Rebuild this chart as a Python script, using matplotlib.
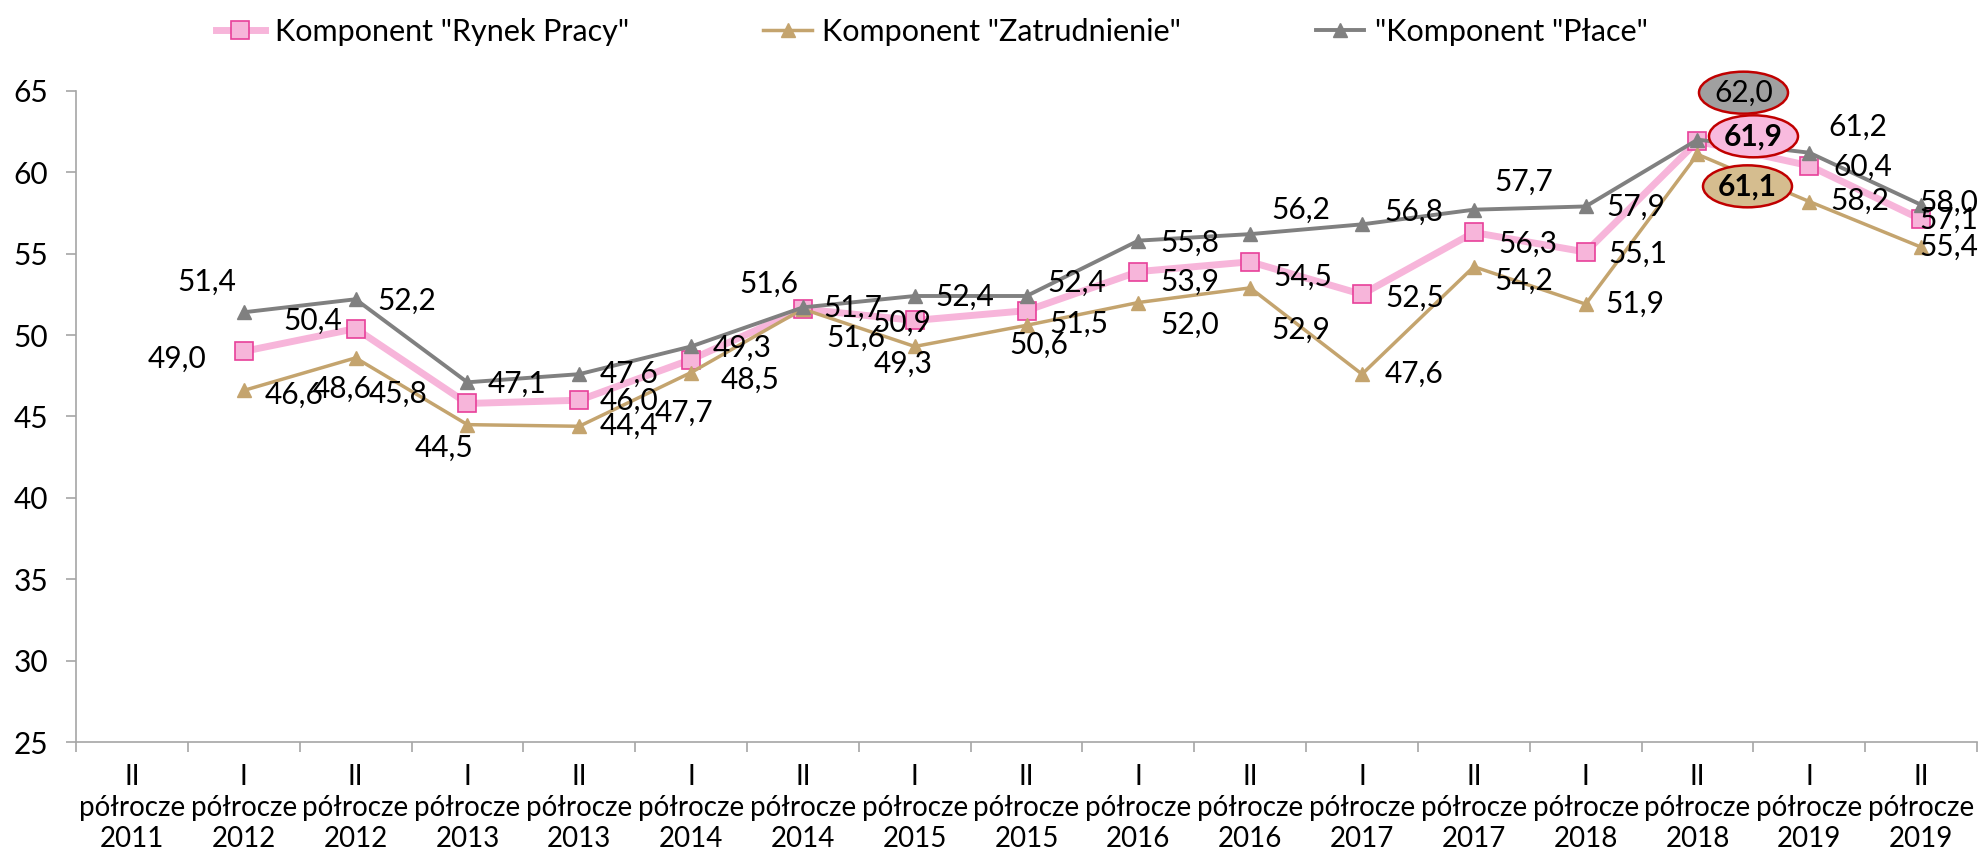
import matplotlib
matplotlib.use("Agg")
import matplotlib.pyplot as plt
from matplotlib.patches import Ellipse
from matplotlib.transforms import IdentityTransform

plt.rcParams['font.family'] = ['Lato', 'DejaVu Sans']

# categories (half-years)
halves = ["II", "I", "II", "I", "II", "I", "II", "I", "II", "I", "II", "I", "II", "I", "II", "I", "II"]
years = [2011, 2012, 2012, 2013, 2013, 2014, 2014, 2015, 2015, 2016, 2016, 2017, 2017, 2018, 2018, 2019, 2019]

# series values (first category has no data)
rynek = [None, 49.0, 50.4, 45.8, 46.0, 48.5, 51.6, 50.9, 51.5, 53.9, 54.5, 52.5, 56.3, 55.1, 61.9, 60.4, 57.1]
zatrud = [None, 46.6, 48.6, 44.5, 44.4, 47.7, 51.6, 49.3, 50.6, 52.0, 52.9, 47.6, 54.2, 51.9, 61.1, 58.2, 55.4]
place = [None, 51.4, 52.2, 47.1, 47.6, 49.3, 51.7, 52.4, 52.4, 55.8, 56.2, 56.8, 57.7, 57.9, 62.0, 61.2, 58.0]

# label offsets in pixels from the point (dx right, dy down)
off_rynek = [None, (-67, 7), (-43, -8), (-69, -10), (50, 1), (59, 20), (-34, -25), (-13, 2), (52, 13),
             (51, 10), (53, 15), (53, 3), (54, 11), (52, 2), (56, -5), (53, 1), (28, 0)]
off_zatrud = [None, (50, 4), (-13, 31), (-23, 23), (50, 0), (-7, 40), (53, 29), (-12, 17), (12, 19),
              (51, 22), (51, 42), (52, 0), (50, 14), (49, 0), (50, 32), (50, -1), (28, 0)]
off_place = [None, (-37, -31), (51, 2), (50, 1), (50, 0), (51, 1), (50, 0), (50, 1), (50, -13),
             (51, 2), (51, -24), (52, -13), (50, -28), (50, 0), (46, -47), (48, -26), (28, -2)]

pink = '#F7B5DA'
pink_edge = '#E8409A'
tan = '#C4A46E'
grey = '#808080'

fig = plt.figure(figsize=(19.85, 8.65), dpi=100)
ax = fig.add_axes([0.0383, 0.142, 0.9577, 0.753])

x = list(range(len(halves)))
xs = [i for i in x if rynek[i] is not None]

ax.plot(xs, [rynek[i] for i in xs], color=pink, lw=5, marker='s', ms=13.5,
        mfc=pink, mec=pink_edge, mew=1.2, label='Komponent "Rynek Pracy"', zorder=3)
ax.plot(xs, [zatrud[i] for i in xs], color=tan, lw=2.5, marker='^', ms=10,
        mfc=tan, mec=tan, label='Komponent "Zatrudnienie"', zorder=4)
ax.plot(xs, [place[i] for i in xs], color=grey, lw=2.8, marker='^', ms=10,
        mfc=grey, mec=grey, label='"Komponent "Płace"', zorder=5)

fs = 21.5
ax.set_xlim(-0.5, len(halves) - 0.5)
ax.set_ylim(25, 65)
fig.canvas.draw()


def lab(vals, offs, bubble=None, bold=False):
    for i in xs:
        dx, dy = offs[i]
        txt = f"{vals[i]:.1f}".replace('.', ',')
        peak = bubble is not None and i == 14
        ax.annotate(txt, (i, vals[i]), xytext=(dx, -dy), textcoords='offset pixels',
                    ha='center', va='center', fontsize=fs,
                    fontweight='bold' if peak and bold else 'normal', zorder=10)
        if peak:
            px, py = ax.transData.transform((i, vals[i]))
            e = Ellipse((px + dx, py - dy), 89, 42, transform=IdentityTransform(),
                        fc=bubble, ec='#C00000', lw=1.8, zorder=9, clip_on=False)
            ax.add_artist(e)


ax.set_yticks(range(25, 66, 5))
ax.tick_params(axis='y', labelsize=fs, length=7, color='#A6A6A6', width=1.2, pad=13)

ax.set_xticks([i - 0.5 for i in range(len(halves) + 1)])
ax.set_xticklabels([])
ax.set_xticks(x, minor=True)
ax.set_xticklabels([f"{h}\npółrocze\n{y}" for h, y in zip(halves, years)], minor=True,
                   fontsize=20, linespacing=1.22)
ax.tick_params(axis='x', which='major', length=7, color='#A6A6A6', width=1.2)
ax.tick_params(axis='x', which='minor', length=0, pad=16)

for s in ['top', 'right']:
    ax.spines[s].set_visible(False)
for s in ['left', 'bottom']:
    ax.spines[s].set_color('#A6A6A6')
    ax.spines[s].set_linewidth(1.2)

lab(rynek, off_rynek, '#F8BADE', bold=True)
lab(zatrud, off_zatrud, '#D5BD8F', bold=True)
lab(place, off_place, '#A0A0A0')

fig.legend(loc='upper left', bbox_to_anchor=(0.101, 0.997), ncol=3, frameon=False,
           fontsize=22, columnspacing=4.4, handlelength=1.6, handletextpad=0.33, borderpad=0)

fig.savefig('out.png', dpi=100)
